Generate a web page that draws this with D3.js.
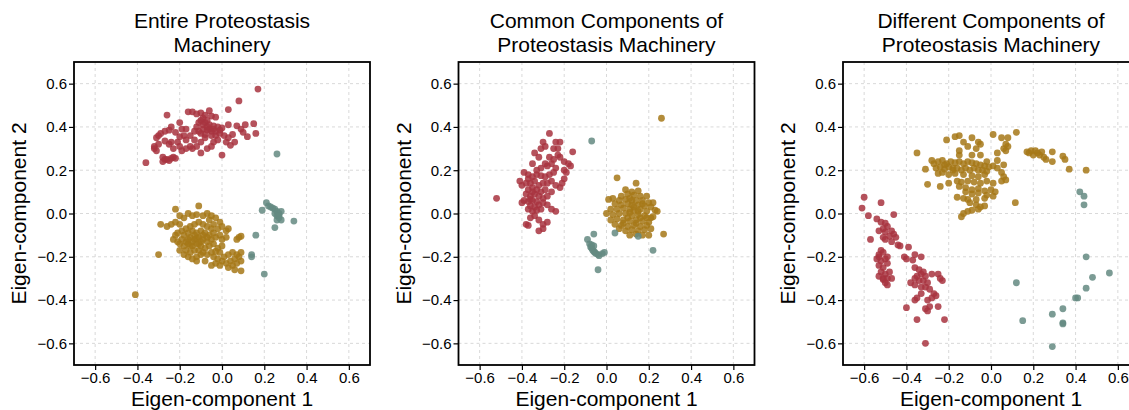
<!DOCTYPE html>
<html>
<head>
<meta charset="utf-8">
<script src="https://cdn.jsdelivr.net/npm/d3@7"></script>
<style>
  body { margin: 0; background: #fff; }
  text { font-family: "Liberation Sans", Arial, Helvetica, sans-serif; }
</style>
</head>
<body>
<div id="chart"></div>
<script>
// panel titles and axis ticks
const titles = [
    ['Entire Proteostasis', 'Machinery'],
    ['Common Components of', 'Proteostasis Machinery'],
    ['Different Components of', 'Proteostasis Machinery']
];
const tickValues = [-0.6, -0.4, -0.2, 0.0, 0.2, 0.4, 0.6];
const groups = ['red', 'gold', 'teal'];

// Panel 1 : entire machinery
const p1Red = [[0.17,0.575],[0.08,0.52],[0.03,0.48],[-0.06,0.475],[-0.16,0.47],[-0.14,0.47],[-0.12,0.46],[-0.1,0.465],[-0.08,0.455],[-0.05,0.45],[-0.03,0.445],[-0.26,0.455],[-0.09,0.44],[-0.1,0.43],[-0.07,0.43],[-0.08,0.42],[-0.11,0.42],[-0.06,0.41],[-0.04,0.405],[-0.02,0.4],[0.0,0.395],[-0.12,0.4],[-0.09,0.39],[-0.07,0.385],[-0.05,0.38],[-0.1,0.37],[-0.08,0.365],[-0.05,0.36],[-0.03,0.36],[0.03,0.41],[0.07,0.405],[0.09,0.39],[0.11,0.41],[0.15,0.415],[0.16,0.37],[0.12,0.355],[0.1,0.375],[0.05,0.365],[0.03,0.35],[0.06,0.33],[0.04,0.315],[-0.01,0.385],[-0.02,0.34],[-0.04,0.33],[-0.07,0.3],[-0.05,0.31],[-0.1,0.28],[0.0,0.27],[-0.2,0.42],[-0.19,0.39],[-0.17,0.39],[-0.18,0.36],[-0.2,0.355],[-0.15,0.36],[-0.13,0.34],[-0.15,0.31],[-0.12,0.31],[-0.17,0.3],[-0.19,0.29],[-0.14,0.3],[-0.24,0.4],[-0.25,0.385],[-0.22,0.375],[-0.27,0.38],[-0.29,0.37],[-0.3,0.36],[-0.31,0.35],[-0.27,0.335],[-0.24,0.33],[-0.25,0.32],[-0.3,0.32],[-0.32,0.31],[-0.32,0.3],[-0.31,0.29],[-0.28,0.26],[-0.27,0.25],[-0.26,0.25],[-0.24,0.255],[-0.23,0.26],[-0.22,0.255],[-0.28,0.24],[-0.25,0.245],[-0.36,0.235],[-0.21,0.33],[-0.23,0.3],[-0.06,0.39],[-0.04,0.39],[-0.08,0.35],[-0.11,0.38],[-0.13,0.38],[-0.09,0.41],[-0.07,0.4],[-0.03,0.38],[-0.01,0.37],[0.01,0.36],[0.02,0.33],[-0.17,0.34],[-0.2,0.31],[-0.1,0.33]];
const p1Gold = [[-0.41,-0.375],[-0.3,-0.19],[-0.29,-0.05],[-0.22,0.02],[-0.11,0.035],[-0.2,-0.01],[-0.18,-0.02],[-0.16,0.0],[-0.14,-0.01],[-0.12,-0.005],[-0.09,-0.01],[-0.07,0.0],[-0.05,-0.01],[-0.03,-0.02],[-0.01,-0.04],[0.0,-0.06],[0.03,-0.07],[-0.06,-0.03],[-0.04,-0.05],[-0.02,-0.07],[-0.26,-0.06],[-0.24,-0.05],[-0.22,-0.04],[-0.2,-0.05],[-0.23,-0.12],[-0.22,-0.1],[-0.21,-0.13],[-0.2,-0.17],[-0.18,-0.19],[-0.16,-0.2],[-0.14,-0.21],[-0.12,-0.2],[-0.1,-0.19],[-0.19,-0.08],[-0.17,-0.07],[-0.15,-0.06],[-0.13,-0.05],[-0.11,-0.04],[-0.09,-0.05],[-0.07,-0.06],[-0.05,-0.07],[-0.18,-0.1],[-0.16,-0.09],[-0.14,-0.08],[-0.12,-0.09],[-0.1,-0.08],[-0.08,-0.09],[-0.06,-0.1],[-0.04,-0.09],[-0.19,-0.12],[-0.17,-0.13],[-0.15,-0.11],[-0.13,-0.12],[-0.11,-0.11],[-0.09,-0.12],[-0.07,-0.13],[-0.05,-0.12],[-0.03,-0.11],[-0.18,-0.15],[-0.16,-0.14],[-0.14,-0.15],[-0.12,-0.14],[-0.1,-0.15],[-0.08,-0.16],[-0.06,-0.15],[-0.04,-0.14],[-0.17,-0.17],[-0.15,-0.18],[-0.13,-0.17],[-0.11,-0.17],[-0.09,-0.18],[-0.07,-0.19],[-0.05,-0.18],[-0.14,-0.13],[-0.12,-0.115],[-0.1,-0.13],[-0.16,-0.12],[-0.13,-0.1],[-0.11,-0.14],[-0.15,-0.15],[-0.09,-0.1],[-0.07,-0.11],[-0.2,-0.14],[-0.21,-0.09],[-0.02,-0.16],[0.0,-0.15],[-0.01,-0.18],[0.01,-0.2],[0.03,-0.19],[0.05,-0.18],[0.07,-0.19],[0.09,-0.18],[0.08,-0.2],[0.06,-0.21],[0.04,-0.22],[0.02,-0.23],[0.0,-0.22],[-0.02,-0.21],[0.03,-0.25],[0.05,-0.24],[0.07,-0.23],[0.09,-0.22],[0.09,-0.265],[0.06,-0.26],[-0.01,-0.24],[-0.03,-0.23],[0.08,-0.11],[0.07,-0.12],[0.09,-0.105],[0.02,-0.11],[-0.01,-0.1],[-0.03,-0.175],[0.0,-0.12],[-0.04,-0.2],[-0.08,-0.22],[-0.05,-0.24],[-0.12,-0.22],[0.02,-0.08]];
const p1Teal = [[0.26,0.275],[0.21,0.05],[0.19,0.015],[0.22,0.035],[0.23,0.03],[0.24,0.025],[0.25,0.02],[0.26,0.01],[0.25,0.0],[0.26,-0.01],[0.27,-0.02],[0.28,-0.03],[0.27,0.0],[0.28,0.01],[0.26,-0.03],[0.34,-0.035],[0.25,-0.065],[0.16,-0.1],[0.14,-0.19],[0.14,-0.2],[0.2,-0.28],[0.27,-0.01]];

// Panel 2 : common components
const p2Red = [[-0.52,0.07],[-0.27,0.37],[-0.3,0.33],[-0.29,0.31],[-0.31,0.3],[-0.24,0.33],[-0.22,0.33],[-0.25,0.3],[-0.23,0.3],[-0.34,0.28],[-0.32,0.26],[-0.27,0.26],[-0.25,0.25],[-0.23,0.27],[-0.2,0.24],[-0.16,0.285],[-0.18,0.23],[-0.17,0.22],[-0.35,0.23],[-0.31,0.21],[-0.28,0.22],[-0.26,0.23],[-0.24,0.21],[-0.39,0.19],[-0.37,0.18],[-0.35,0.17],[-0.33,0.18],[-0.31,0.175],[-0.29,0.17],[-0.27,0.18],[-0.25,0.19],[-0.2,0.2],[-0.19,0.19],[-0.2,0.16],[-0.21,0.14],[-0.22,0.12],[-0.41,0.15],[-0.4,0.13],[-0.38,0.14],[-0.36,0.14],[-0.34,0.15],[-0.32,0.13],[-0.3,0.14],[-0.28,0.14],[-0.26,0.15],[-0.24,0.13],[-0.37,0.11],[-0.35,0.12],[-0.33,0.11],[-0.31,0.1],[-0.29,0.11],[-0.26,0.1],[-0.38,0.09],[-0.36,0.08],[-0.34,0.09],[-0.32,0.08],[-0.3,0.07],[-0.28,0.08],[-0.39,0.06],[-0.37,0.055],[-0.35,0.06],[-0.33,0.055],[-0.36,0.035],[-0.34,0.03],[-0.32,0.04],[-0.3,0.05],[-0.28,0.04],[-0.26,0.02],[-0.4,0.05],[-0.37,0.02],[-0.35,0.01],[-0.33,0.015],[-0.31,0.02],[-0.34,-0.01],[-0.36,-0.02],[-0.32,-0.03],[-0.38,-0.05],[-0.37,-0.055],[-0.3,-0.05],[-0.28,-0.04],[-0.3,-0.07],[-0.32,-0.08],[-0.24,0.01],[-0.33,0.2],[-0.29,0.23],[-0.22,0.26],[-0.37,0.16],[-0.35,0.1],[-0.36,0.065]];
const p2Gold = [[0.05,0.165],[0.14,0.14],[0.09,0.11],[0.12,0.1],[0.15,0.105],[0.1,0.09],[0.13,0.085],[0.16,0.08],[0.07,0.08],[0.19,0.08],[0.03,0.07],[0.06,0.06],[0.09,0.065],[0.11,0.07],[0.14,0.06],[0.17,0.06],[0.2,0.05],[0.22,0.05],[0.01,0.065],[0.04,0.045],[0.07,0.04],[0.1,0.045],[0.12,0.04],[0.15,0.04],[0.18,0.035],[0.21,0.03],[0.02,0.02],[0.05,0.02],[0.08,0.025],[0.11,0.02],[0.13,0.015],[0.16,0.02],[0.19,0.01],[0.23,0.015],[0.0,0.0],[0.03,-0.005],[0.06,0.0],[0.09,0.0],[0.12,-0.01],[0.15,-0.005],[0.18,-0.01],[0.21,-0.02],[0.24,0.01],[0.02,-0.03],[0.05,-0.025],[0.08,-0.03],[0.11,-0.035],[0.14,-0.03],[0.17,-0.035],[0.2,-0.04],[0.22,-0.015],[0.04,-0.05],[0.07,-0.055],[0.1,-0.06],[0.13,-0.055],[0.16,-0.06],[0.19,-0.055],[0.06,-0.07],[0.09,-0.08],[0.12,-0.075],[0.15,-0.08],[0.18,-0.075],[0.21,-0.07],[0.11,-0.1],[0.14,-0.095],[0.17,-0.1],[0.2,-0.1],[0.26,0.44],[0.27,-0.095],[0.13,0.03],[0.15,0.01],[0.1,-0.02],[0.14,-0.045],[0.12,0.06],[0.17,0.045],[0.08,-0.045],[0.16,-0.02],[0.19,-0.02],[0.11,0.005]];
const p2Teal = [[-0.07,0.335],[-0.06,-0.095],[-0.09,-0.12],[-0.08,-0.14],[-0.075,-0.155],[-0.07,-0.16],[-0.065,-0.17],[-0.06,-0.175],[-0.055,-0.18],[-0.05,-0.185],[-0.04,-0.19],[-0.035,-0.195],[-0.02,-0.185],[-0.01,-0.18],[-0.07,-0.145],[-0.04,-0.26],[0.04,-0.09],[0.22,-0.17],[0.15,-0.105],[-0.06,-0.15]];

// Panel 3 : different components
const p3Red = [[-0.6,0.075],[-0.61,0.025],[-0.58,-0.01],[-0.52,0.05],[-0.46,-0.005],[-0.54,-0.025],[-0.52,-0.04],[-0.5,-0.045],[-0.49,-0.06],[-0.51,-0.07],[-0.53,-0.08],[-0.5,-0.085],[-0.47,-0.08],[-0.46,-0.095],[-0.48,-0.105],[-0.51,-0.11],[-0.5,-0.12],[-0.57,-0.12],[-0.45,-0.11],[-0.44,-0.145],[-0.43,-0.15],[-0.47,-0.13],[-0.39,-0.155],[-0.41,-0.2],[-0.36,-0.19],[-0.37,-0.215],[-0.33,-0.2],[-0.4,-0.21],[-0.52,-0.17],[-0.51,-0.18],[-0.53,-0.2],[-0.54,-0.21],[-0.52,-0.22],[-0.5,-0.21],[-0.53,-0.24],[-0.51,-0.25],[-0.49,-0.23],[-0.52,-0.27],[-0.5,-0.28],[-0.48,-0.27],[-0.53,-0.29],[-0.51,-0.3],[-0.49,-0.3],[-0.47,-0.3],[-0.5,-0.32],[-0.49,-0.33],[-0.51,-0.305],[-0.36,-0.25],[-0.34,-0.26],[-0.35,-0.29],[-0.33,-0.28],[-0.32,-0.27],[-0.31,-0.29],[-0.36,-0.3],[-0.34,-0.31],[-0.32,-0.31],[-0.3,-0.32],[-0.28,-0.28],[-0.25,-0.28],[-0.24,-0.3],[-0.23,-0.31],[-0.38,-0.32],[-0.36,-0.33],[-0.33,-0.34],[-0.31,-0.34],[-0.29,-0.35],[-0.27,-0.37],[-0.33,-0.37],[-0.35,-0.39],[-0.36,-0.4],[-0.28,-0.39],[-0.26,-0.38],[-0.3,-0.4],[-0.29,-0.43],[-0.31,-0.44],[-0.3,-0.45],[-0.25,-0.43],[-0.4,-0.435],[-0.35,-0.49],[-0.22,-0.49],[-0.31,-0.6],[-0.53,-0.19],[-0.49,-0.2]];
const p3Gold = [[-0.35,0.28],[0.12,0.375],[0.01,0.365],[-0.09,0.35],[-0.15,0.36],[-0.17,0.355],[-0.21,0.34],[-0.13,0.33],[-0.06,0.33],[-0.05,0.32],[0.05,0.35],[0.08,0.35],[0.07,0.32],[0.06,0.3],[0.08,0.31],[-0.11,0.31],[-0.07,0.3],[-0.15,0.29],[-0.15,0.27],[0.03,0.28],[0.07,0.29],[-0.09,0.27],[-0.05,0.27],[0.17,0.285],[0.18,0.28],[0.19,0.29],[0.21,0.29],[0.22,0.28],[0.24,0.285],[0.2,0.27],[0.23,0.27],[0.25,0.26],[0.29,0.285],[0.29,0.24],[0.34,0.265],[0.35,0.25],[0.37,0.205],[0.45,0.2],[0.26,0.25],[-0.27,0.23],[-0.25,0.24],[-0.23,0.245],[-0.21,0.23],[-0.19,0.24],[-0.17,0.235],[-0.15,0.24],[-0.13,0.23],[-0.11,0.24],[-0.09,0.235],[-0.07,0.23],[-0.05,0.225],[-0.03,0.22],[-0.01,0.215],[-0.26,0.21],[-0.24,0.215],[-0.22,0.205],[-0.2,0.215],[-0.18,0.2],[-0.16,0.21],[-0.14,0.2],[-0.12,0.21],[-0.1,0.2],[-0.08,0.21],[-0.06,0.2],[-0.04,0.2],[-0.02,0.195],[0.01,0.22],[0.03,0.21],[0.06,0.225],[-0.31,0.205],[-0.25,0.185],[-0.23,0.19],[-0.2,0.18],[-0.17,0.185],[-0.13,0.18],[-0.09,0.175],[-0.06,0.17],[-0.03,0.18],[0.05,0.19],[0.06,0.17],[0.07,0.155],[-0.3,0.135],[-0.24,0.125],[-0.2,0.14],[-0.16,0.15],[-0.14,0.145],[-0.11,0.15],[-0.08,0.145],[-0.05,0.14],[-0.02,0.15],[0.01,0.14],[0.05,0.15],[-0.15,0.125],[-0.12,0.12],[-0.09,0.11],[-0.06,0.115],[-0.03,0.105],[0.0,0.11],[0.02,0.1],[-0.12,0.1],[-0.09,0.09],[-0.06,0.095],[-0.02,0.085],[0.01,0.08],[-0.16,0.075],[-0.13,0.07],[-0.11,0.065],[-0.07,0.065],[-0.03,0.07],[-0.1,0.05],[-0.07,0.04],[-0.05,0.03],[-0.03,0.035],[-0.06,0.02],[-0.09,0.015],[-0.11,0.01],[-0.13,0.0],[-0.14,-0.015],[0.115,0.05],[-0.18,0.21],[-0.28,0.245],[-0.22,0.225],[0.03,0.245],[-0.02,0.24]];
const p3Teal = [[0.42,0.1],[0.44,0.08],[0.44,0.04],[0.45,-0.2],[0.56,-0.275],[0.48,-0.295],[0.45,-0.345],[0.4,-0.39],[0.41,-0.39],[0.34,-0.44],[0.29,-0.465],[0.34,-0.505],[0.34,-0.51],[0.15,-0.495],[0.12,-0.32],[0.29,-0.615]];

const panelData = [
    [p1Red, p1Gold, p1Teal],
    [p2Red, p2Gold, p2Teal],
    [p3Red, p3Gold, p3Teal]
];

const colors = { red: '#a8343f', gold: '#a67818', teal: '#648a81' };

const W = 1129, H = 410;
const panelLeft = [74, 458.5, 843];
const plotTop = 62, pw = 296, ph = 303;

const svg = d3.select('#chart').append('svg')
    .attr('width', W)
    .attr('height', H);

panelData.forEach((sets, i) => {
    const g = svg.append('g')
        .attr('transform', `translate(${panelLeft[i]},${plotTop})`);

    const x = d3.scaleLinear().domain([-0.7, 0.7]).range([0, pw]);
    const y = d3.scaleLinear().domain([-0.7, 0.7]).range([ph, 0]);

    // dashed grid
    g.selectAll('.gx').data(tickValues).enter().append('line')
        .attr('x1', d => x(d)).attr('x2', d => x(d))
        .attr('y1', 0).attr('y2', ph)
        .attr('stroke', '#d9d9d9').attr('stroke-dasharray', '3,3');
    g.selectAll('.gy').data(tickValues).enter().append('line')
        .attr('y1', d => y(d)).attr('y2', d => y(d))
        .attr('x1', 0).attr('x2', pw)
        .attr('stroke', '#d9d9d9').attr('stroke-dasharray', '3,3');

    // points
    sets.forEach((pts, k) => {
        g.selectAll('.pt' + k).data(pts).enter().append('circle')
            .attr('cx', d => x(d[0]))
            .attr('cy', d => y(d[1]))
            .attr('r', 3.4)
            .attr('fill', colors[groups[k]])
            .attr('fill-opacity', 0.85);
    });

    // axes
    const fmt = d3.format('.1f');
    const ax = g.append('g').attr('transform', `translate(0,${ph})`)
        .call(d3.axisBottom(x).tickValues(tickValues).tickFormat(fmt).tickSize(5).tickPadding(2));
    const ay = g.append('g')
        .call(d3.axisLeft(y).tickValues(tickValues).tickFormat(fmt).tickSize(5).tickPadding(2));
    [ax, ay].forEach(a => {
        a.select('.domain').remove();
        a.selectAll('line').attr('stroke', '#000').attr('stroke-width', 1.2);
        a.selectAll('text').attr('font-size', 15).attr('fill', '#000')
            .style('font-family', '"Liberation Sans", Arial, sans-serif');
    });

    // frame
    g.append('rect')
        .attr('width', pw).attr('height', ph)
        .attr('fill', 'none').attr('stroke', '#000').attr('stroke-width', 1.8);

    // title
    const t = g.append('text')
        .attr('text-anchor', 'middle')
        .attr('font-size', 21)
        .attr('fill', '#000');
    titles[i].forEach((line, j) => {
        t.append('tspan').attr('x', pw / 2).attr('y', 28 - plotTop + j * 24).text(line);
    });

    // axis labels
    g.append('text')
        .attr('x', pw / 2).attr('y', 406 - plotTop)
        .attr('text-anchor', 'middle').attr('font-size', 21).attr('fill', '#000')
        .text('Eigen-component 1');
    g.append('text')
        .attr('transform', `translate(-48,${ph / 2}) rotate(-90)`)
        .attr('text-anchor', 'middle').attr('font-size', 21).attr('fill', '#000')
        .text('Eigen-component 2');
});
</script>
</body>
</html>
